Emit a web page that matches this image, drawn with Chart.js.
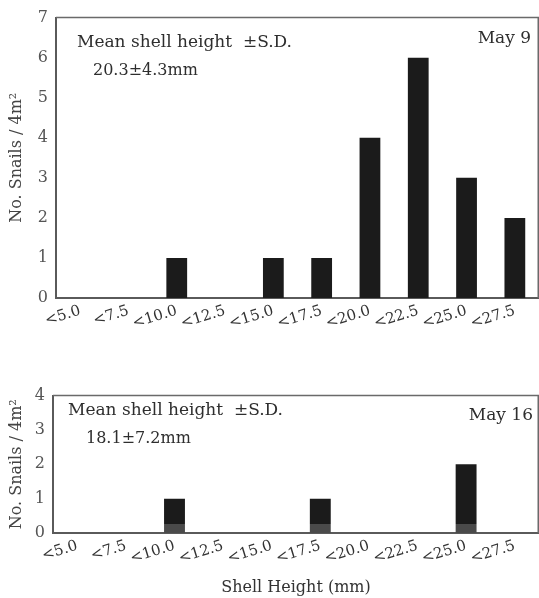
<!DOCTYPE html>
<html>
<head>
<meta charset="utf-8">
<script src="https://cdn.jsdelivr.net/npm/chart.js@4/dist/chart.umd.min.js"></script>
<style>
  html, body { margin: 0; padding: 0; background: #fff; overflow: hidden; }
  body { width: 539px; height: 598px; position: relative; }
  .panel { position: absolute; left: 0; }
  #p9 { top: 0; }
  #p16 { top: 378px; }
</style>
</head>
<body>
<div class="panel" id="p9"><canvas id="c9" width="539" height="345"></canvas></div>
<div class="panel" id="p16"><canvas id="c16" width="539" height="220"></canvas></div>
<script>
// ── data ──────────────────────────────────────────────────────────────────────
var sizeClasses = ["<5.0", "<7.5", "<10.0", "<12.5", "<15.0", "<17.5", "<20.0", "<22.5", "<25.0", "<27.5"];
var may9Counts  = [0, 0, 1, 0, 1, 1, 4, 6, 3, 2];
var may16Counts = [0, 0, 1, 0, 0, 1, 0, 0, 2, 0];
var may9YMax = 7;
var may16YMax = 4;
var yTitle = "No. Snails / 4m\u00b2";
var xTitle = "Shell Height (mm)";
var may9Note  = ["Mean shell height  \u00b1S.D.", "20.3\u00b14.3mm", "May 9"];
var may16Note = ["Mean shell height  \u00b1S.D.", "18.1\u00b17.2mm", "May 16"];

var SERIF = "'DejaVu Serif', serif";
var INK = "#1b1b1b", AXIS = "#5a5a5a", TICK = "#555";

// frame round the plot area + the two text notes
var frameAndNotes = {
  id: "frameAndNotes",
  afterDraw: function (chart, args, opts) {
    var a = chart.chartArea, ctx = chart.ctx;
    ctx.save();
    ctx.strokeStyle = "#6a6a6a"; ctx.lineWidth = 1.5;
    ctx.beginPath();
    ctx.moveTo(a.left, a.top); ctx.lineTo(a.right - 0.75, a.top); ctx.lineTo(a.right - 0.75, a.bottom);
    ctx.stroke();
    ctx.fillStyle = "#2e2e2e"; ctx.textBaseline = "alphabetic";
    (opts.lines || []).forEach(function (l) {
      ctx.font = l.size + "px " + SERIF;
      ctx.textAlign = l.align || "left";
      ctx.fillText(l.text, l.x, l.y);
    });
    ctx.restore();
  }
};

function makeChart(id, counts, yMax, opt) {
  return new Chart(document.getElementById(id).getContext("2d"), {
    type: "bar",
    data: {
      labels: sizeClasses,
      datasets: [{
        data: counts,
        backgroundColor: opt.barColor || INK,
        barPercentage: 0.43, categoryPercentage: 1, borderWidth: 0
      }]
    },
    plugins: [frameAndNotes],
    options: {
      responsive: false, animation: false, devicePixelRatio: 1,
      layout: { padding: { top: 14, left: 0, right: 0, bottom: 0 } },
      plugins: {
        legend: { display: false }, tooltip: { enabled: false },
        frameAndNotes: { lines: opt.lines }
      },
      scales: {
        x: {
          grid: { display: false, drawTicks: false },
          border: { color: AXIS, width: 2 },
          ticks: { color: "#333", font: { family: SERIF, size: 15 }, minRotation: 17, maxRotation: 17, autoSkip: false, padding: 4 },
          title: opt.xTitle ? { display: true, text: opt.xTitle, color: "#333", font: { family: SERIF, size: 16 }, padding: { top: 0, bottom: 1 } } : { display: false },
          afterFit: function (s) { s.height = opt.xHeight; }
        },
        y: {
          min: 0, max: yMax,
          grid: { display: false, drawTicks: false },
          border: { color: AXIS, width: 2 },
          ticks: { stepSize: 1, color: TICK, font: { family: SERIF, size: 16 }, padding: 8 },
          title: { display: true, text: yTitle, color: "#444", font: { family: SERIF, size: 16 }, padding: { top: 7, bottom: 0 } },
          afterFit: function (s) { s.width = opt.yWidth; }
        }
      }
    }
  });
}

makeChart("c9", may9Counts, may9YMax, {
  xHeight: 47, yWidth: 56,
  lines: [
    { text: may9Note[0], x: 77, y: 47, size: 17 },
    { text: may9Note[1], x: 93, y: 75, size: 16 },
    { text: may9Note[2], x: 531, y: 43, size: 17, align: "right" }
  ]
});

// bottom panel bars: grey foot under the black bar, as in the print
function footShade(ctx) {
  var a = ctx.chart.chartArea;
  if (!a) return INK;
  var g = ctx.chart.ctx.createLinearGradient(0, a.bottom, 0, a.bottom - 10);
  g.addColorStop(0, "#4a4a4a"); g.addColorStop(0.9, "#4a4a4a");
  g.addColorStop(0.91, INK); g.addColorStop(1, INK);
  return g;
}

makeChart("c16", may16Counts, may16YMax, {
  xHeight: 65, yWidth: 53, xTitle: xTitle, barColor: footShade,
  lines: [
    { text: may16Note[0], x: 68, y: 37, size: 17 },
    { text: may16Note[1], x: 86, y: 65, size: 16 },
    { text: may16Note[2], x: 533, y: 42, size: 17, align: "right" }
  ]
});
</script>
</body>
</html>
